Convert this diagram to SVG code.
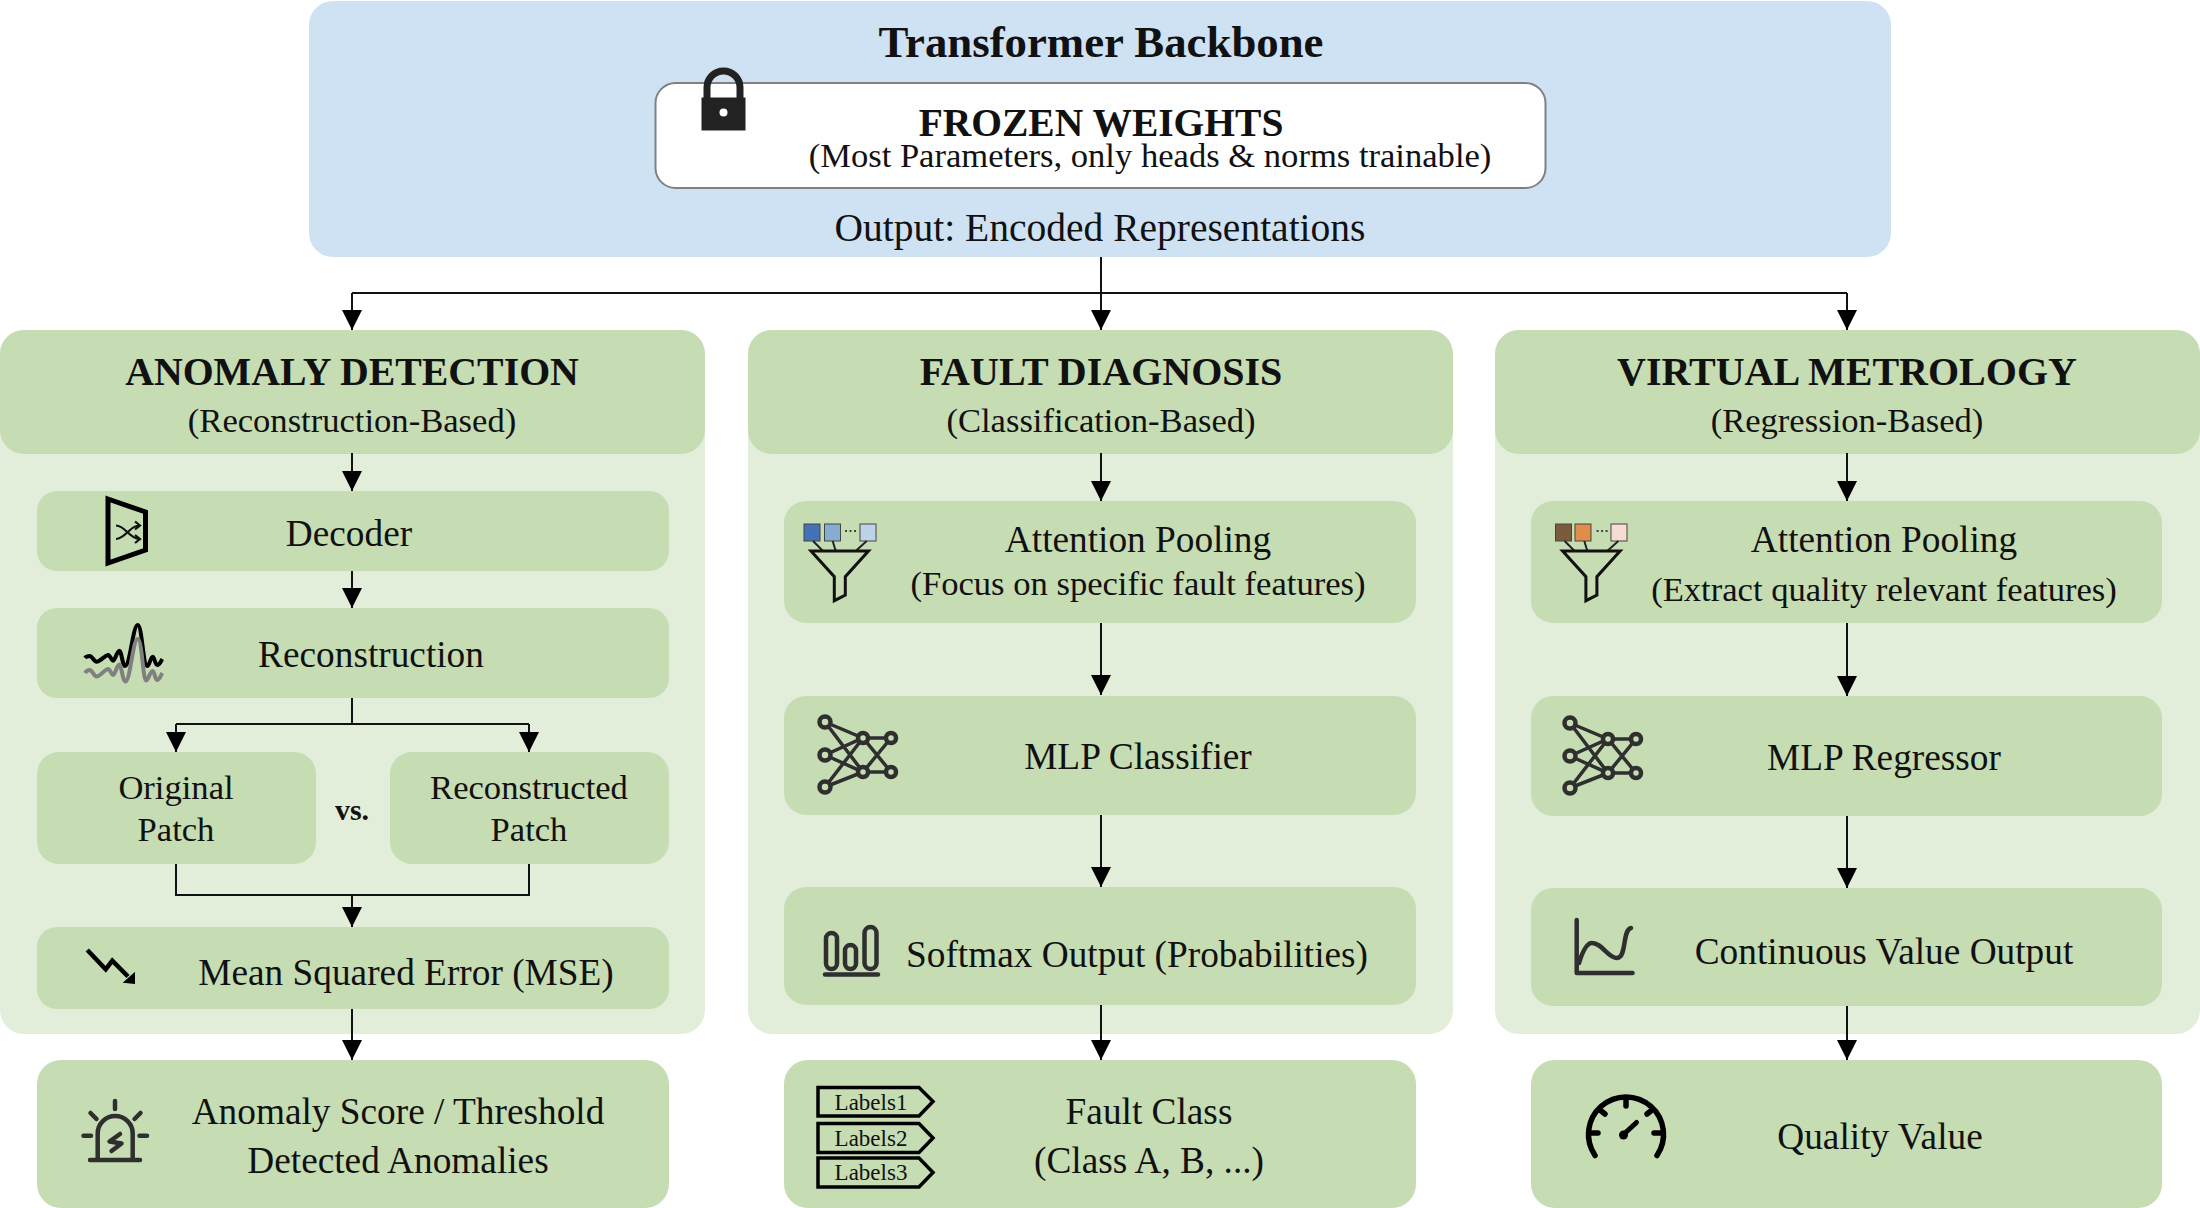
<svg xmlns="http://www.w3.org/2000/svg" width="2200" height="1208" viewBox="0 0 2200 1208">
<style>
text{font-family:"Liberation Serif","Times New Roman",serif;fill:#111;text-anchor:middle}
.b{font-weight:bold}
.t{font-size:37.3px}
.s{font-size:34.600px}
.h{font-size:40px;font-weight:bold}
.panel{fill:#e2eeda}
.g{fill:#c6dcb3}
.c{fill:none;stroke:#111;stroke-width:2}
.a{marker-end:url(#arr)}
.ic{fill:none;stroke:#2f2f2f;stroke-width:4.5;stroke-linecap:round;stroke-linejoin:round}
.nt{fill:none;stroke:#2f2f2f;stroke-width:3.500}
.nd{fill:#c6dcb3;stroke:#2f2f2f;stroke-width:4.500}
.k{fill:none;stroke:#000;stroke-width:5}
.tag{fill:none;stroke:#000;stroke-width:3.500}
.l{font-size:23px}
</style>
<defs>
<marker id="arr" markerUnits="userSpaceOnUse" markerWidth="20" markerHeight="20" refX="20" refY="10" orient="auto"><path d="M0 0L20 10L0 20Z" fill="#000"/></marker>
<g id="net">
<path class="nt" d="M825 722L863 738H891M825 722L863 772H891M825 755L863 738L891 772M825 755L863 772L891 738M825 787L863 738M825 787L863 772"/>
<circle class="nd" cx="825" cy="722" r="5.500"/><circle class="nd" cx="825" cy="755" r="5.500"/><circle class="nd" cx="825" cy="787" r="5.500"/><circle class="nd" cx="863" cy="738" r="5"/><circle class="nd" cx="863" cy="772" r="5"/><circle class="nd" cx="891" cy="738" r="5"/><circle class="nd" cx="891" cy="772" r="5"/>
</g>
<g id="funnel">
<path d="M813 541L823 551M832.700 541L835.700 551M866.700 541L855.700 551" fill="none" stroke="#222" stroke-width="2"/>
<path d="M811 551H868.500L845.300 576.700V595L834.300 600.700V576.700Z" fill="none" stroke="#111" stroke-width="3"/>
<path d="M845 531H856" stroke="#444" stroke-width="2" stroke-dasharray="2 2.500" fill="none"/>
</g>
</defs>

<g id="backbone">
<rect x="309" y="1" width="1582" height="256" rx="24" fill="#cfe2f3"/>
<text x="1101" y="57" class="h" style="font-size:44.800px">Transformer Backbone</text>
<rect x="655.500" y="83" width="890" height="105" rx="20" fill="#fefefe" stroke="#808080" stroke-width="2"/>
<g id="lock"><path d="M707 98V87.500A16.500 16.500 0 0 1 740 87.500V98" fill="none" stroke="#222" stroke-width="7"/><rect x="701.500" y="97.500" width="44" height="33" fill="#222"/><circle cx="723.500" cy="112.500" r="4" fill="#fff"/></g>
<text x="1101" y="136" class="h" style="font-size:39.500px">FROZEN WEIGHTS</text>
<text x="1150" y="167" class="s">(Most Parameters, only heads &amp; norms trainable)</text>
<text x="1100" y="241" style="font-size:39.500px">Output: Encoded Representations</text>
</g>

<g id="panel-anomaly">
<rect class="panel" x="0" y="330" width="705" height="704" rx="24"/>
<rect class="g" x="0" y="330" width="705" height="124" rx="24"/>
<text x="352" y="385" class="h" style="font-size:39.800px">ANOMALY DETECTION</text>
<text x="352" y="432" class="s">(Reconstruction-Based)</text>
</g>
<g id="panel-fault">
<rect class="panel" x="748" y="330" width="705" height="704" rx="24"/>
<rect class="g" x="748" y="330" width="705" height="124" rx="24"/>
<text x="1101" y="385" class="h">FAULT DIAGNOSIS</text>
<text x="1101" y="432" class="s">(Classification-Based)</text>
</g>
<g id="panel-metrology">
<rect class="panel" x="1495" y="330" width="705" height="704" rx="24"/>
<rect class="g" x="1495" y="330" width="705" height="124" rx="24"/>
<text x="1847" y="385" class="h">VIRTUAL METROLOGY</text>
<text x="1847" y="432" class="s">(Regression-Based)</text>
</g>

<g id="decoder">
<rect class="g" x="37" y="491" width="632" height="80" rx="20"/>
<path class="k" d="M108 499L145.500 512V550L108 563Z"/>
<path d="M116 525.500C125 525.500 130 539 139 539M116 539C125 539 130 525.500 139 525.500M135 521.500L140 525.500L135 529.500M135 535L140 539L135 543" fill="none" stroke="#111" stroke-width="2.200"/>
<text x="349" y="546" class="t">Decoder</text>
</g>
<g id="reconstruction">
<rect class="g" x="37" y="608" width="632" height="90" rx="20"/>
<path d="M85 658C86.500 656 88 656 90 656C92 656 94 661.700 96.700 661.700C100 661.700 105 655 108.300 655C110 655 111.500 660.700 113.300 660.700C115 660.700 117 650.700 119.300 650.700C121.500 650.700 122.500 666 125 666C130 666 133 625 137.700 625C142 625 143 666 147.300 666C149.500 666 150.500 656.700 152.700 656.700C154.500 656.700 155 665 157.300 665C159.500 665 161 661 162.300 659" fill="none" stroke="#000" stroke-width="4"/>
<path d="M85 673C86.500 670.500 88 670 90 670C92 670 94 676.500 96.700 676.500C100 676.500 105 669 108.300 669C110 669 111.500 675 113.300 675C115 675 117 664.500 119.300 664.500C121.500 664.500 122.500 681.500 125.500 681.500C130 681.500 133 639 137.700 639C142 639 143 680.500 146 680.500C148.500 680.500 150 671 152.700 671C154.500 671 155 680 157.300 680C159.500 680 161 675 162.300 673" fill="none" stroke="#808080" stroke-width="4"/>
<text x="371" y="667" class="t">Reconstruction</text>
</g>
<g id="original-patch">
<rect class="g" x="37" y="752" width="279" height="112" rx="22"/>
<text x="176" y="799" class="s">Original</text><text x="176" y="841" class="s">Patch</text>
</g>
<text id="versus" x="352" y="820" class="b" style="font-size:30px">vs.</text>
<g id="reconstructed-patch">
<rect class="g" x="390" y="752" width="279" height="112" rx="22"/>
<text x="529" y="799" class="s">Reconstructed</text><text x="529" y="841" class="s">Patch</text>
</g>
<g id="mse">
<rect class="g" x="37" y="927" width="632" height="82" rx="20"/>
<path d="M87.300 950L105.700 969.300L112.300 960.700L128 976.500" fill="none" stroke="#000" stroke-width="4.500"/>
<path d="M135 971.700V984L122.700 982.700Z" fill="#000"/>
<text x="406" y="985" class="t">Mean Squared Error (MSE)</text>
</g>
<g id="anomaly-score">
<rect class="g" x="37" y="1060" width="632" height="148" rx="24"/>
<path class="ic" d="M115 1101V1109M83.500 1135.700H91M139.500 1135.700H147M90.500 1113L96.500 1119M140.500 1113L134.500 1119M97.700 1160V1133.500A17.500 17.500 0 0 1 132.700 1133.500V1160M90 1160H140M120 1134L109.500 1141.500L121.500 1143.500L111.500 1151"/>
<text x="398" y="1124" class="t">Anomaly Score / Threshold</text>
<text x="398" y="1173" class="t">Detected Anomalies</text>
</g>

<g id="fd-attention">
<rect class="g" x="784" y="501" width="632" height="122" rx="22"/>
<rect x="804" y="524" width="16" height="17" fill="#4472b8" stroke="#444"/><rect x="824.500" y="524" width="16" height="17" fill="#86add0" stroke="#444"/><rect x="860" y="524" width="16" height="17" fill="#bdd3e8" stroke="#444"/>
<use href="#funnel"/>
<text x="1138" y="552" class="t">Attention Pooling</text>
<text x="1138" y="595" class="s">(Focus on specific fault features)</text>
</g>
<g id="fd-mlp">
<rect class="g" x="784" y="696" width="632" height="119" rx="22"/>
<use href="#net"/>
<text x="1138" y="769" class="t">MLP Classifier</text>
</g>
<g id="fd-softmax">
<rect class="g" x="784" y="887" width="632" height="118" rx="22"/>
<g class="ic"><rect x="826" y="933" width="11" height="36" rx="5.500"/><rect x="845" y="945" width="11" height="24" rx="5.500"/><rect x="864.500" y="927" width="12" height="42" rx="6"/><path d="M825 974.500H878"/></g>
<text x="1137" y="967" class="t">Softmax Output (Probabilities)</text>
</g>
<g id="fd-class">
<rect class="g" x="784" y="1060" width="632" height="148" rx="24"/>
<path class="tag" d="M818 1087.500H919L933 1101.500L919 1116H818Z"/>
<path class="tag" d="M818 1123.500H919L933 1138L919 1152.500H818Z"/>
<path class="tag" d="M818 1158H919L933 1172.500L919 1187H818Z"/>
<text x="871" y="1110" class="l">Labels1</text><text x="871" y="1145.500" class="l">Labels2</text><text x="871" y="1180" class="l">Labels3</text>
<text x="1149" y="1124" class="t">Fault Class</text>
<text x="1149" y="1173" class="t">(Class A, B, ...)</text>
</g>

<g id="vm-attention">
<rect class="g" x="1531" y="501" width="631" height="122" rx="22"/>
<rect x="1555.500" y="524" width="16" height="17" fill="#7a5c3c" stroke="#444"/><rect x="1575" y="524" width="16" height="17" fill="#e28c4c" stroke="#444"/><rect x="1611" y="524" width="16" height="17" fill="#f6dcd2" stroke="#444"/>
<use href="#funnel" x="751.600"/>
<text x="1884" y="552" class="t">Attention Pooling</text>
<text x="1884" y="601" class="s">(Extract quality relevant features)</text>
</g>
<g id="vm-mlp">
<rect class="g" x="1531" y="696" width="631" height="120" rx="22"/>
<use href="#net" x="745" y="1"/>
<text x="1884" y="770" class="t">MLP Regressor</text>
</g>
<g id="vm-output">
<rect class="g" x="1531" y="888" width="631" height="118" rx="22"/>
<path class="ic" d="M1576.700 920V973H1632.500M1579 963C1583 950 1587 943 1592 943C1602 943 1608 958 1617 958C1627 958 1622 930 1631 928"/>
<text x="1884" y="964" class="t">Continuous Value Output</text>
</g>
<g id="vm-quality">
<rect class="g" x="1531" y="1060" width="631" height="148" rx="24"/>
<path d="M1595 1155.500A37.500 37.500 0 1 1 1657 1155.500M1626 1097V1106M1588.500 1133H1598M1654 1133H1663.500M1600 1110L1605 1114M1652 1110L1647 1114" fill="none" stroke="#000" stroke-width="5.500" stroke-linecap="round"/>
<path d="M1624 1134L1636.500 1122.500" stroke="#000" stroke-width="5" stroke-linecap="round"/><circle cx="1623.500" cy="1135" r="4.500" fill="#000"/>
<text x="1880" y="1149" class="t">Quality Value</text>
</g>

<g id="connectors">
<path class="c" d="M1101 293H352M1101 293H1847"/>
<path class="c a" d="M352 293V330"/><path class="c a" d="M1101 257V330"/><path class="c a" d="M1847 293V330"/>
<path class="c a" d="M352 453V491"/><path class="c a" d="M352 571V608"/>
<path class="c" d="M352 698V724M176 724H529"/>
<path class="c a" d="M176 724V752"/><path class="c a" d="M529 724V752"/>
<path class="c" d="M176 864V895H529V864"/><path class="c a" d="M352 895V927"/>
<path class="c a" d="M352 1009V1060"/>
<path class="c a" d="M1101 453V501"/><path class="c a" d="M1101 623V695"/><path class="c a" d="M1101 815V887"/><path class="c a" d="M1101 1005V1060"/>
<path class="c a" d="M1847 453V501"/><path class="c a" d="M1847 623V696"/><path class="c a" d="M1847 816V888"/><path class="c a" d="M1847 1006V1060"/>
</g>
</svg>
